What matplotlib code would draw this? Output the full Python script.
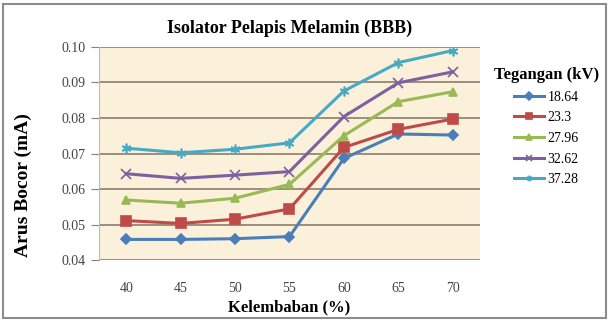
import numpy as np
import matplotlib.pyplot as plt
from matplotlib.patches import Rectangle

# humidity (%) and leakage current (mA) per test voltage (kV)
kelembaban = ['40', '45', '50', '55', '60', '65', '70']
tegangan = ['18.64', '23.3', '27.96', '32.62', '37.28']
arus_1864 = [0.0458, 0.0458, 0.0460, 0.0466, 0.0686, 0.0755, 0.0752]
arus_233 = [0.0511, 0.0503, 0.0515, 0.0544, 0.0717, 0.0768, 0.0797]
arus_2796 = [0.0569, 0.0560, 0.0574, 0.0613, 0.0750, 0.0846, 0.0874]
arus_3262 = [0.0643, 0.0630, 0.0639, 0.0649, 0.0804, 0.0899, 0.0930]
arus_3728 = [0.0715, 0.0702, 0.0712, 0.0730, 0.0876, 0.0956, 0.0990]

series = [arus_1864, arus_233, arus_2796, arus_3262, arus_3728]
colors = ['#4a7ebb', '#be4b48', '#98b954', '#7d60a0', '#46aac5']
markers = ['D', 's', '^', 'x', (6, 2, 0)]
msizes = [5, 7, 6, 7, 7]

plt.rcParams['font.family'] = ['Liberation Serif', 'DejaVu Serif']

fig = plt.figure(figsize=(6.09, 3.21), dpi=100)
ax = fig.add_axes([0.1626, 0.19, 0.6254, 0.6636])
ax.set_facecolor('#fbf0da')

x = np.arange(len(kelembaban))
for vals, c, m, ms, lab in zip(series, colors, markers, msizes, tegangan):
    ax.plot(x, vals, color=c, lw=2.2, marker=m, markersize=ms,
            markeredgewidth=1.2, label=lab)

ax.set_xlim(-0.5, len(kelembaban) - 0.5)
ax.set_ylim(0.04, 0.10)
ax.set_yticks(np.arange(0.04, 0.1001, 0.01))
ax.set_yticklabels(['%.2f' % v for v in np.arange(0.04, 0.1001, 0.01)])
ax.set_xticks(x)
ax.set_xticklabels(kelembaban)
ax.grid(axis='y', color='#8a7f70', lw=1.2)
ax.set_axisbelow(True)
ax.tick_params(axis='y', length=6, color='#8a7f70', labelsize=10,
               labelcolor='#444444', pad=4)
ax.tick_params(axis='x', length=0, labelsize=10, labelcolor='#444444', pad=16)
for s in ['top', 'right', 'bottom']:
    ax.spines[s].set_visible(False)
ax.spines['left'].set_color('#bbbbbb')

ax.set_title('Isolator Pelapis Melamin (BBB)', fontsize=13, fontweight='bold', pad=10)
ax.set_xlabel('Kelembaban (%)', fontsize=12, fontweight='bold', labelpad=3)
ax.set_ylabel('Arus Bocor (mA)', fontsize=14, fontweight='bold')
ax.yaxis.set_label_coords(-0.175, 0.35)

leg = fig.legend(title='Tegangan (kV)', loc='upper left',
                 bbox_to_anchor=(0.79, 0.83), frameon=False, fontsize=10,
                 title_fontproperties={'weight': 'bold', 'size': 12},
                 handlelength=2.2, labelspacing=0.55, handletextpad=0.2)
for h in leg.legend_handles:
    h.set_markersize(4)

fig.patches.append(Rectangle((0.005, 0.008), 0.99, 0.978, transform=fig.transFigure,
                             fill=False, edgecolor='#8c8c8c', lw=1.5))

fig.savefig('out.png', dpi=100)
